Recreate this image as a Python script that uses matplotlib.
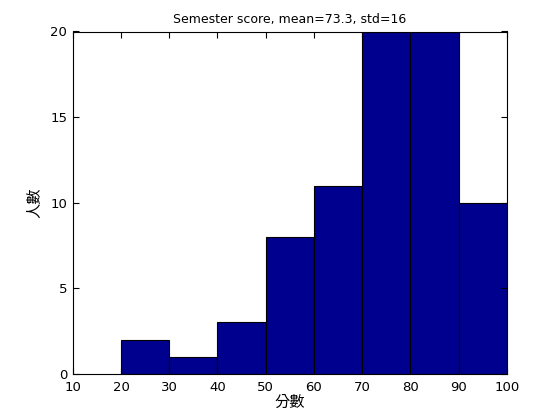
import matplotlib
matplotlib.use("Agg")
import matplotlib.pyplot as plt
import numpy as np

plt.rcParams['font.family'] = ['DejaVu Sans', 'Noto Sans CJK TC']

# histogram bins (score ranges) and counts
bin_edges = [20, 30, 40, 50, 60, 70, 80, 90, 100]
counts = [2, 1, 3, 8, 11, 20, 20, 10]
xticks = [10, 20, 30, 40, 50, 60, 70, 80, 90, 100]
yticks = [0, 5, 10, 15, 20]

fig = plt.figure(figsize=(5.6, 4.2), dpi=100)
ax = fig.add_axes([0.13, 0.11, 0.775, 0.815])

lefts = np.array(bin_edges[:-1])
widths = np.diff(bin_edges)
ax.bar(lefts, counts, width=widths, align='edge',
       color='#00008F', edgecolor='black', linewidth=0.8)

ax.set_xlim(10, 100)
ax.set_ylim(0, 20)
ax.set_xticks(xticks)
ax.set_yticks(yticks)
ax.tick_params(direction='in', top=True, right=True, labelsize=9.5, length=4)
ax.tick_params(axis='x', pad=5)
ax.tick_params(axis='y', pad=4)
for s in ax.spines.values():
    s.set_linewidth(0.8)

ax.set_title("Semester score, mean=73.3, std=16", fontsize=9)
ax.set_xlabel("分數", family=['Noto Sans CJK TC', 'DejaVu Sans'], fontsize=11, labelpad=0)
ax.set_ylabel("人數", family=['Noto Sans CJK TC', 'DejaVu Sans'], fontsize=11, labelpad=6)

fig.savefig("out.png", dpi=100)
